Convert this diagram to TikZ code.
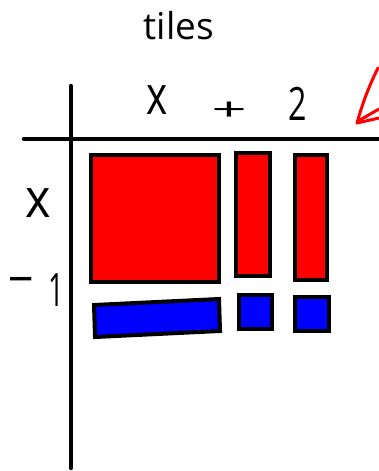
\documentclass[tikz,border=0pt]{standalone}
\usepackage{fontspec}
\setmainfont{Open Sans}
\begin{document}
\begin{tikzpicture}[x=1pt,y=-1pt,
  axisline/.style={line width=4.5pt,line cap=round},
  redtile/.style={draw=black,fill=red,line width=4pt},
  bluetile/.style={draw=black,fill=blue,line width=4pt},
  lab/.style={inner sep=0pt,anchor=center},
  redpen/.style={draw=red,line width=3pt,line cap=round,line join=round}]
\useasboundingbox (0,0) rectangle (378,471);
\fill[white] (0,0) rectangle (378,471);
% title
\node[lab,font=\fontsize{37}{40}\selectfont] (title) at (179,26) {tiles};
% axes
\coordinate (vtop) at (71,86);
\coordinate (vbot) at (71,468);
\coordinate (hl) at (24,139);
\coordinate (hr) at (380,139);
\draw[axisline] (vtop) -- (vbot);
\draw[axisline] (hl) -- (hr);
% top labels
\node[lab,font=\fontsize{54}{54}\selectfont,xscale=0.75] (tx) at (157,100) {x};
\node[lab,font=\fontsize{62}{62}\selectfont,yscale=0.5] (tplus) at (229,111) {+};
\node[lab,font=\fontsize{46}{46}\selectfont,xscale=0.7] (ttwo) at (298,104) {2};
% left labels
\node[lab,font=\fontsize{54}{54}\selectfont,xscale=0.9] (lx) at (38,203) {x};
\node[lab,font=\fontsize{46}{46}\selectfont,xscale=1.1] (lminus) at (21,284) {–};
\node[lab,font=\fontsize{46}{46}\selectfont,xscale=0.6] (lone) at (56,290) {1};
% red tiles
\node[redtile,minimum width=128pt,minimum height=127pt,inner sep=0pt] (sq) at (155,218.5) {};
\node[redtile,minimum width=34pt,minimum height=123pt,inner sep=0pt] (r1) at (253,214.5) {};
\node[redtile,minimum width=32pt,minimum height=125pt,inner sep=0pt] (r2) at (311,217.5) {};
% blue tiles
\path[bluetile] (94,305) -- (219,299) -- (220,331) -- (95,337) -- cycle;
\node[bluetile,minimum width=33pt,minimum height=34pt,inner sep=0pt] (b1) at (255.5,312) {};
\node[bluetile,minimum width=34pt,minimum height=34pt,inner sep=0pt] (b2) at (312,314) {};
% red arrow
\coordinate (atip) at (357,123);
\coordinate (atop) at (378,68);
\coordinate (ah1) at (379,109);
\coordinate (ah2) at (379,118);
\draw[redpen] (atop) .. controls (368,88) and (362,105) .. (atip);
\draw[redpen] (360,120) -- (ah1);
\draw[redpen] (atip) -- (ah2);
\end{tikzpicture}
\end{document}
